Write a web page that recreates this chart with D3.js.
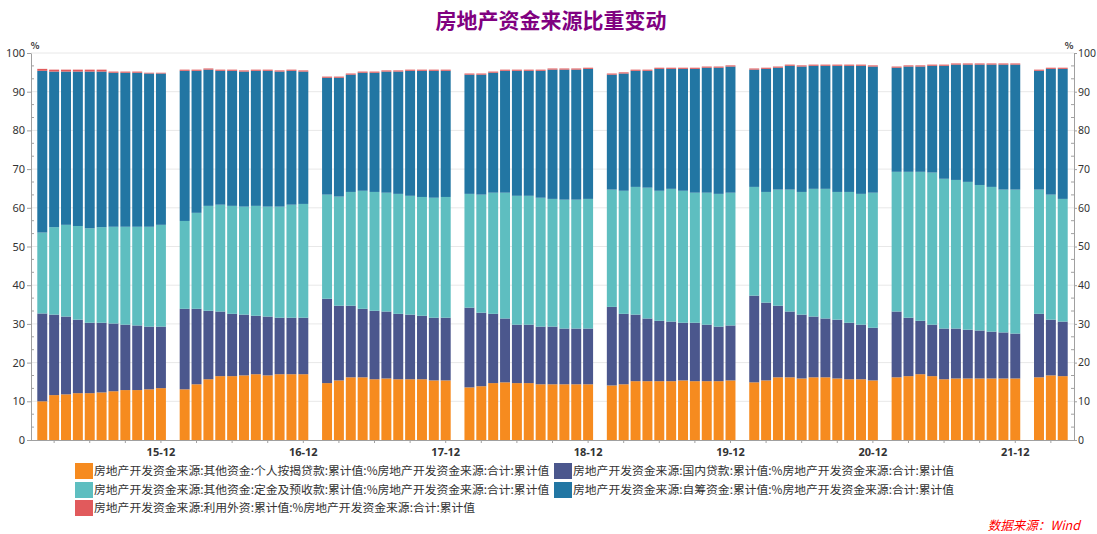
<!DOCTYPE html>
<html><head><meta charset="utf-8">
<script src="https://cdn.jsdelivr.net/npm/d3@7"></script>
<style>
body{margin:0;background:#fff;}
svg{display:block;font-family:"Noto Sans CJK SC","Noto Sans",sans-serif;}
</style></head>
<body><svg id="c" width="1097" height="534"></svg>
<script>
// years with data (Feb..Dec each year; January is not published)
const years = [2015, 2016, 2017, 2018, 2019, 2020, 2021, 2022];
const lastMonth2022 = 4;

const seriesNames = [
  "房地产开发资金来源:其他资金:个人按揭贷款:累计值:%房地产开发资金来源:合计:累计值",
  "房地产开发资金来源:国内贷款:累计值:%房地产开发资金来源:合计:累计值",
  "房地产开发资金来源:其他资金:定金及预收款:累计值:%房地产开发资金来源:合计:累计值",
  "房地产开发资金来源:自筹资金:累计值:%房地产开发资金来源:合计:累计值",
  "房地产开发资金来源:利用外资:累计值:%房地产开发资金来源:合计:累计值"
];
const colors = ["#F68B1F", "#4B578D", "#5EBEC0", "#2276A3", "#E15A5C"];

// 个人按揭贷款 (%), Feb..Dec per year
const mortgage = [
  10.0,11.6,11.8,12.1,12.1,12.3,12.6,12.9,12.9,13.1,13.4,
  13.1,14.4,15.7,16.5,16.5,16.7,17.0,16.7,17.0,17.0,17.0,
  14.7,15.4,16.2,16.2,15.7,15.9,15.7,15.7,15.7,15.4,15.4,
  13.6,13.9,14.7,14.9,14.7,14.7,14.4,14.4,14.4,14.4,14.4,
  14.1,14.4,15.2,15.2,15.2,15.2,15.4,15.2,15.2,15.2,15.4,
  14.9,15.4,16.2,16.2,15.9,16.2,16.2,15.9,15.7,15.7,15.4,
  16.2,16.5,17.0,16.5,15.7,15.9,15.9,15.9,15.9,15.9,15.9,
  16.2,16.7,16.5
];
// 国内贷款 (%)
const domesticLoan = [
  22.7,20.8,20.1,19.0,18.2,18.0,17.5,16.9,16.7,16.2,15.9,
  20.8,19.5,17.7,16.7,16.1,15.7,15.1,15.2,14.6,14.6,14.6,
  21.8,19.3,18.5,17.7,17.7,17.3,16.9,16.7,16.4,16.2,16.2,
  20.6,19.0,17.9,16.5,15.1,15.1,14.9,14.9,14.4,14.4,14.4,
  20.3,18.2,17.2,16.2,15.6,15.4,14.9,15.1,14.6,14.1,14.2,
  22.4,20.1,18.5,17.0,16.5,15.7,15.2,15.2,14.6,14.1,13.6,
  17.0,15.1,13.8,13.3,13.1,12.9,12.6,12.4,12.1,11.9,11.6,
  16.4,14.4,14.1
];
// 定金及预收款 (%)
const deposits = [
  20.9,22.6,23.7,24.2,24.4,24.7,25.0,25.3,25.5,25.8,26.3,
  22.7,24.8,27.1,27.6,27.9,27.9,28.4,28.4,28.7,29.2,29.4,
  26.9,28.2,29.4,30.5,30.7,30.7,31.0,30.7,30.7,31.0,31.2,
  29.4,30.5,31.3,32.5,33.3,33.3,33.3,33.0,33.3,33.3,33.5,
  30.3,31.8,33.0,33.8,33.6,34.3,34.1,33.6,34.1,34.3,34.3,
  28.1,28.6,30.0,31.5,31.7,33.0,33.5,33.0,33.8,33.8,34.9,
  36.1,37.7,38.5,39.3,38.7,38.4,38.2,37.6,37.4,36.9,37.2,
  32.1,32.3,31.7
];
// 自筹资金 (%)
const selfRaised = [
  41.8,40.2,39.6,39.9,40.5,40.2,39.8,39.8,39.8,39.6,39.1,
  38.8,36.7,35.2,34.6,34.9,34.9,34.9,35.1,34.9,34.6,34.2,
  30.2,30.7,30.3,30.5,30.8,31.3,31.6,32.3,32.6,32.8,32.6,
  30.8,31.0,31.0,31.5,32.3,32.3,32.8,33.4,33.6,33.6,33.6,
  29.7,30.3,30.0,30.2,31.5,31.0,31.5,32.0,32.3,32.6,32.6,
  30.3,31.8,31.5,32.0,32.4,31.8,31.8,32.6,32.6,33.1,32.6,
  26.9,27.2,27.2,27.6,29.2,29.8,30.3,31.1,31.6,32.3,32.3,
  30.7,32.5,33.6
];
// 利用外资 (%)
const foreign = [
  0.5,0.5,0.5,0.5,0.5,0.5,0.3,0.3,0.3,0.2,0.2,
  0.3,0.3,0.3,0.3,0.3,0.3,0.3,0.3,0.3,0.3,0.3,
  0.3,0.3,0.3,0.3,0.3,0.3,0.3,0.3,0.3,0.3,0.3,
  0.3,0.3,0.3,0.3,0.3,0.3,0.3,0.3,0.3,0.3,0.3,
  0.3,0.3,0.3,0.3,0.3,0.3,0.3,0.3,0.3,0.3,0.3,
  0.3,0.3,0.3,0.3,0.3,0.3,0.3,0.3,0.3,0.3,0.3,
  0.3,0.3,0.3,0.3,0.3,0.3,0.3,0.3,0.3,0.3,0.3,
  0.3,0.3,0.3
];
const yTicks = [0,10,20,30,40,50,60,70,80,90,100];

// ---- build categories ----
const pad = n => (n < 10 ? "0" : "") + n;
const allMonths = [];   // includes January slots (empty)
const dataMonths = [];  // months that carry a bar
years.forEach(yr => {
  const start = yr === 2015 ? 2 : 1;
  const end = yr === 2022 ? lastMonth2022 : 12;
  for (let m = start; m <= end; m++) {
    const key = String(yr).slice(2) + "-" + pad(m);
    allMonths.push(key);
    if (m !== 1) dataMonths.push(key);
  }
});
const seriesVals = [mortgage, domesticLoan, deposits, selfRaised, foreign];
const rows = dataMonths.map((k, i) => {
  const r = {key: k};
  seriesVals.forEach((arr, j) => r["s" + j] = arr[i]);
  return r;
});

const svg = d3.select("#c");
const pLeft = 31, pRight = 1074, pTop = 53, pBottom = 440;

const x = d3.scaleBand().domain(allMonths).range([pLeft, pRight])
  .paddingInner(0.16).paddingOuter(0.53);
const y = d3.scaleLinear().domain([0, 100]).range([pBottom, pTop]);

// gridlines
svg.append("g").selectAll("line").data(yTicks.slice(1)).join("line")
  .attr("x1", pLeft).attr("x2", pRight)
  .attr("y1", d => y(d)).attr("y2", d => y(d))
  .attr("stroke", "#e8e8e8").attr("stroke-width", 1);

// stacked bars
const stack = d3.stack().keys(["s0","s1","s2","s3","s4"]);
const stacked = stack(rows);
svg.append("g").selectAll("g").data(stacked).join("g")
  .attr("fill", (d, i) => colors[i])
  .selectAll("rect").data(d => d).join("rect")
  .attr("x", d => x(d.data.key))
  .attr("width", x.bandwidth())
  .attr("y", d => y(d[1]))
  .attr("height", d => Math.max(0, y(d[0]) - y(d[1])));

// axes
const axisColor = "#a0a0a0";
const minorVals = d3.range(0, 100.01, 10 / 3).filter(v => Math.abs(v / 10 - Math.round(v / 10)) > 1e-6);

function styleAxis(g) {
  g.select(".domain").attr("stroke", axisColor);
  g.selectAll(".tick line").attr("stroke", axisColor);
  g.selectAll(".tick text").attr("fill", "#333").attr("font-size", 11)
    .attr("font-family", "'Noto Sans', 'Noto Sans CJK SC', sans-serif");
}
const gl = svg.append("g").attr("transform", `translate(${pLeft},0)`)
  .call(d3.axisLeft(y).tickValues(yTicks).tickSize(4).tickSizeOuter(0).tickPadding(2))
  .call(styleAxis);
gl.selectAll(".minor").data(minorVals).join("line").attr("class", "minor")
  .attr("x1", 0).attr("x2", 3).attr("y1", d => y(d)).attr("y2", d => y(d))
  .attr("stroke", axisColor);

const gr = svg.append("g").attr("transform", `translate(${pRight},0)`)
  .call(d3.axisRight(y).tickValues(yTicks).tickSize(3).tickSizeOuter(0).tickPadding(1))
  .call(styleAxis);
gr.selectAll(".tick text").attr("font-size", 10.5);
gr.selectAll(".minor").data(minorVals).join("line").attr("class", "minor")
  .attr("x1", 0).attr("x2", -3).attr("y1", d => y(d)).attr("y2", d => y(d))
  .attr("stroke", axisColor);

const xTickKeys = allMonths.filter(k => +k.slice(3) % 3 === 0);
const gx = svg.append("g").attr("transform", `translate(0,${pBottom})`)
  .call(d3.axisBottom(x).tickValues(xTickKeys).tickSize(3).tickSizeOuter(0)
    .tickFormat(k => k.slice(3) === "12" ? k : ""))
  .call(styleAxis);
gx.select(".domain").attr("d", `M${pLeft},0.5H${pRight}`);
gx.selectAll(".tick text").attr("font-weight", "bold").attr("font-size", 11).attr("dy", "0.9em");

// % unit labels
svg.append("text").attr("x", 35).attr("y", 49).attr("text-anchor", "middle")
  .attr("font-size", 9).attr("font-weight", "bold").attr("fill", "#333").text("%");
svg.append("text").attr("x", 1069).attr("y", 49).attr("text-anchor", "middle")
  .attr("font-size", 9).attr("font-weight", "bold").attr("fill", "#333").text("%");

// title
svg.append("text").attr("x", 551).attr("y", 28).attr("text-anchor", "middle")
  .attr("font-size", 21).attr("font-weight", "bold").attr("fill", "#800080")
  .text("房地产资金来源比重变动");

// legend
const legendPos = [
  {x: 75, y: 463}, {x: 554, y: 463},
  {x: 75, y: 482}, {x: 554, y: 482},
  {x: 75, y: 500}
];
const order = [0, 1, 2, 3, 4];
const lg = svg.append("g").selectAll("g").data(order).join("g")
  .attr("transform", (d, i) => `translate(${legendPos[i].x},${legendPos[i].y})`);
lg.append("rect").attr("width", 18).attr("height", 16).attr("fill", d => colors[d]);
lg.append("text").attr("x", 19).attr("y", 8).attr("dy", "0.35em")
  .attr("font-size", 11.8).attr("fill", "#333").text(d => seriesNames[d]);

// source
svg.append("text").attr("x", 1080).attr("y", 530).attr("text-anchor", "end")
  .attr("font-size", 12.5).attr("font-style", "italic").attr("fill", "#FF0000")
  .text("数据来源：Wind");
</script></body></html>
